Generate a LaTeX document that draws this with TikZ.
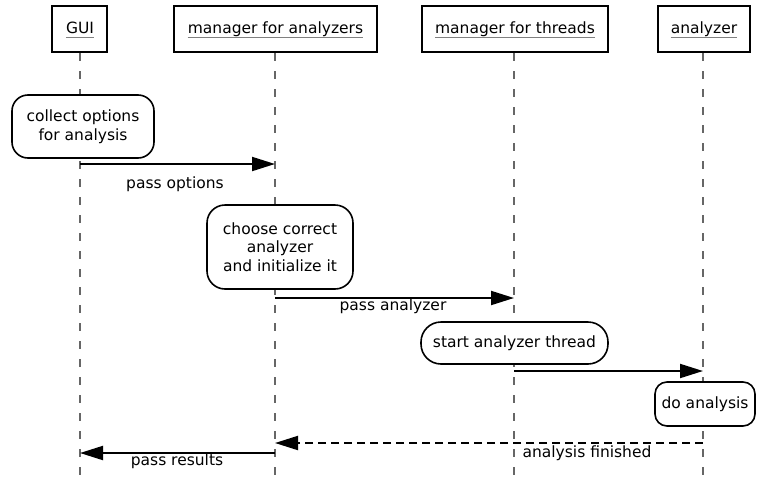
\documentclass[tikz,border=0pt]{standalone}
\usepackage{fontspec}
\setmainfont{DejaVu Sans}
\usetikzlibrary{arrows.meta}
\begin{document}
\begin{tikzpicture}[x=1pt,y=-1pt,
  every node/.style={font=\fontsize{15.5}{18.5}\selectfont},
  header/.style={draw=black, line width=2.2pt, fill=white, inner sep=0pt},
  htext/.style={inner sep=0pt, anchor=base},
  uline/.style={draw=gray, line width=1pt},
  lifeline/.style={draw=black!60, line width=1.3pt, dash pattern=on 8pt off 10pt},
  action/.style={draw=black, line width=1.6pt, fill=white, rounded corners=14pt, inner sep=0pt, align=center},
  msg/.style={draw=black, line width=2pt, -{Triangle[length=23pt,width=14pt]}},
  reply/.style={msg, dash pattern=on 8pt off 5pt},
  mlabel/.style={inner sep=0pt}]
  \useasboundingbox[fill=white] (0,0) rectangle (757,485);

  % participants
  \node[header, minimum width=55pt, minimum height=46pt] (gui) at (79.5,29) {};
  \node[header, minimum width=203pt, minimum height=46pt] (mfa) at (275.5,29) {};
  \node[header, minimum width=186pt, minimum height=46pt] (mft) at (515,29) {};
  \node[header, minimum width=92pt, minimum height=46pt] (ana) at (704,29) {};

  \node[htext] (guit) at (80,33) {GUI};
  \node[htext] (mfat) at (275.5,33) {manager for analyzers};
  \node[htext] (mftt) at (515,33) {manager for threads};
  \node[htext] (anat) at (704,33) {analyzer};
  \foreach \t in {guit,mfat,mftt,anat}
    \draw[uline] ([yshift=-4pt]\t.base west) -- ([yshift=-4pt]\t.base east);

  % lifelines
  \coordinate (guiend) at (80,485);
  \coordinate (mfaend) at (275,485);
  \coordinate (mftend) at (514,485);
  \coordinate (anaend) at (703,485);
  \draw[lifeline] (gui.south -| guiend) -- (guiend);
  \draw[lifeline] (mfa.south -| mfaend) -- (mfaend);
  \draw[lifeline] (mft.south -| mftend) -- (mftend);
  \draw[lifeline] (ana.south -| anaend) -- (anaend);

  % activities
  \node[action, minimum width=142pt, minimum height=63pt, rounded corners=16pt] (collect) at (83,126.5) {collect options\\for analysis};
  \node[action, minimum width=146pt, minimum height=84pt, rounded corners=18pt] (choose) at (280,247) {choose correct\\analyzer\\and initialize it};
  \node[action, minimum width=187pt, minimum height=42pt, rounded corners=20pt] (start) at (514.5,343) {start analyzer thread};
  \node[action, minimum width=100pt, minimum height=44pt, rounded corners=12pt] (doan) at (705,404) {do analysis};

  % messages
  \draw[msg] (guiend |- 0,164) -- (mfaend |- 0,164);
  \node[mlabel] (l1) at (175,184) {pass options};

  \draw[msg] (mfaend |- 0,298) -- (mftend |- 0,298);
  \node[mlabel] (l2) at (393,306) {pass analyzer};

  \draw[msg] (mftend |- 0,371) -- (anaend |- 0,371);

  \draw[reply] (anaend |- 0,443) -- (mfaend |- 0,443);
  \node[mlabel] (l3) at (587,453) {analysis finished};

  \draw[msg] (mfaend |- 0,453) -- (guiend |- 0,453);
  \node[mlabel] (l4) at (177,461) {pass results};
\end{tikzpicture}
\end{document}
